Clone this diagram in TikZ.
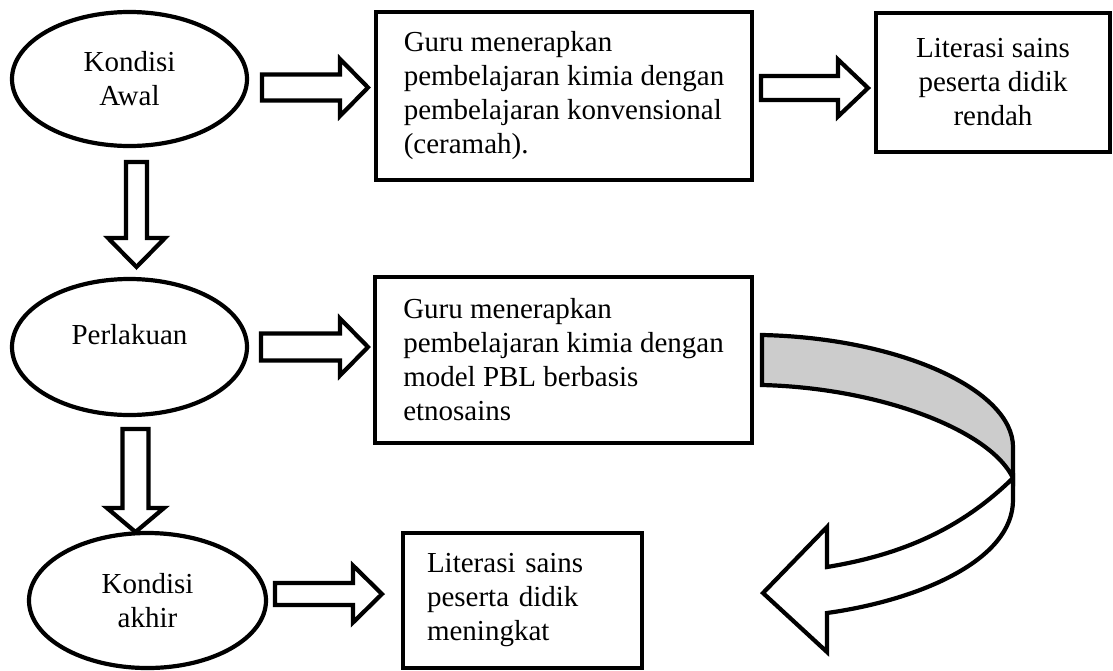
\documentclass[tikz,border=0pt]{standalone}
\usepackage{fontspec}
\setmainfont{Liberation Serif}
\usetikzlibrary{shapes.geometric}
\definecolor{ribbon}{RGB}{204,204,204}
% horizontal block arrow: x start, y centre, length, shaft half-height, head length
\newcommand\myharrow[5]{\draw[blk] (#1,#2-#4) -- (#1+#3-#5,#2-#4) -- (#1+#3-#5,#2-28.5) -- (#1+#3,#2) -- (#1+#3-#5,#2+28.5) -- (#1+#3-#5,#2+#4) -- (#1,#2+#4) -- cycle;}
% vertical block arrow: x centre, y start, length, shaft half-width, head length
\newcommand\myvarrow[5]{\draw[blk] (#1-#4,#2) -- (#1-#4,#2+#3-#5) -- (#1-28.5,#2+#3-#5) -- (#1,#2+#3) -- (#1+28.5,#2+#3-#5) -- (#1+#4,#2+#3-#5) -- (#1+#4,#2) -- cycle;}
\begin{document}
\begin{tikzpicture}[x=1pt,y=-1pt,
  font=\fontsize{29}{34}\selectfont,
  blk/.style={draw=black, line width=4.2pt, fill=white, line join=miter},
  oval/.style={ellipse, draw, line width=4.2pt, inner sep=0pt, align=center},
  box/.style={rectangle, draw, line width=4.2pt, inner ysep=0pt, inner xsep=23pt, align=left}
]
\useasboundingbox (0,0) rectangle (1113,670);

% ovals
\node[oval, minimum width=235pt, minimum height=134pt] (e1) at (129.5,79) {Kondisi\\Awal};
\node[oval, minimum width=235pt, minimum height=136pt] (e2) at (129.5,347) {\raisebox{12pt}[\height][\depth]{Perlakuan}};
\node[oval, minimum width=237pt, minimum height=135pt] (e3) at (147.5,600.5) {Kondisi\\akhir};

% boxes
\node[box, minimum width=376pt, minimum height=168pt] (b1) at (564,96)
  {Guru menerapkan\\pembelajaran kimia dengan\\pembelajaran konvensional\\(ceramah).};
\node[box, minimum width=377pt, minimum height=166pt] (b2) at (563.5,360)
  {Guru menerapkan\\pembelajaran kimia dengan\\model PBL berbasis\\etnosains};
\node[box, align=center, minimum width=234pt, minimum height=139pt] (b3) at (993,82.5)
  {Literasi sains\\peserta didik\\rendah};
\node[box, text width=191pt, minimum width=239pt, minimum height=135pt] (b4) at (522.5,600.5)
  {Literasi sains\\peserta didik\\meningkat};

% block arrows
\myharrow{262}{87.5}{106}{13}{28}
\myharrow{761}{88}{107}{12}{30}
\myharrow{261}{347}{107}{13.5}{28}
\myharrow{275}{594}{107}{11}{29}
\myvarrow{136.5}{162}{105}{10.5}{29}
\myvarrow{135.5}{429}{103}{13}{24}

% curved ribbon arrow from b2 to b4
\draw[blk, fill=ribbon] (762,335) .. controls (900,338) and (1013,390) .. (1013,447)
  -- (1013,478) .. controls (990,430) and (880,388) .. (762,385) -- cycle;
\draw[blk] (1013,478) .. controls (960,530) and (900,555) .. (827,567)
  -- (827,527) -- (763,593) -- (827,652) -- (827,613)
  .. controls (920,600) and (1013,560) .. (1013,500) -- cycle;
\end{tikzpicture}
\end{document}
